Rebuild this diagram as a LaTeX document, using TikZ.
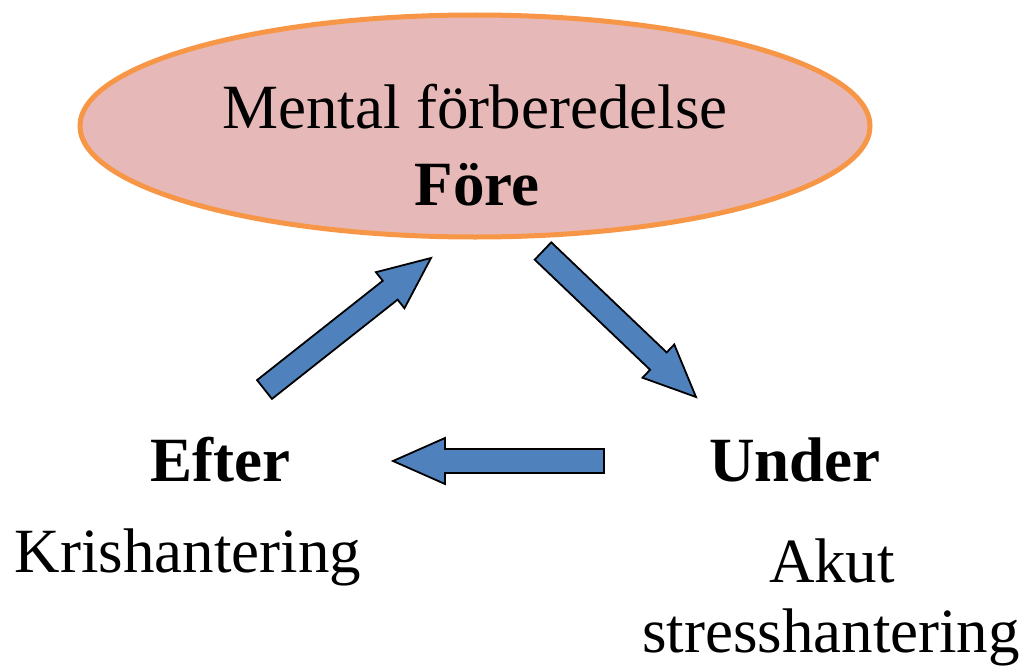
\documentclass[tikz,border=0pt]{standalone}
\usepackage{fontspec}
\setmainfont{Liberation Serif}
\usetikzlibrary{calc,shapes.geometric}
\definecolor{ellfill}{HTML}{E6B9B8}
\definecolor{elldraw}{HTML}{F79646}
\definecolor{arrowfill}{HTML}{4F81BD}
\tikzset{
  big/.style={font=\fontsize{63}{75.6}\selectfont, inner sep=0pt, anchor=base},
  bigbold/.style={big, font=\fontsize{63}{75.6}\selectfont\bfseries},
  blockarrow/.style={fill=arrowfill, draw=black, line width=1.8pt, line join=miter},
}
\newcommand\blockarrowdraw[2]{%
  \coordinate (nk) at ($(#2)!52pt!(#1)$);
  \filldraw[blockarrow]
    ($(#1)!12pt!90:(#2)$) -- ($(nk)!12pt!90:(#2)$) -- ($(nk)!23pt!90:(#2)$) --
    (#2) -- ($(nk)!23pt!-90:(#2)$) -- ($(nk)!12pt!-90:(#2)$) --
    ($(#1)!12pt!-90:(#2)$) -- cycle;
}
\begin{document}
\begin{tikzpicture}[x=1pt,y=-1pt]
\useasboundingbox (0,0) rectangle (1027,669);
\node[ellipse, draw=elldraw, fill=ellfill, line width=5pt, minimum width=790pt, minimum height=222pt, inner sep=0pt] (ell) at (475,126) {};
\node[big] (mental) at (475,128) {Mental förberedelse};
\node[bigbold] (fore) at (477,205) {Före};
\node[bigbold] (efter) at (220,481) {Efter};
\node[big] (kris) at (188,572) {Krishantering};
\node[bigbold] (under) at (795,481) {Under};
\node[big] (akut) at (832,582) {Akut};
\node[big] (stress) at (831,652) {stresshantering};
\coordinate (a1t) at (264.5,389.5); \coordinate (a1h) at (431,258);
\coordinate (a2t) at (543,251);     \coordinate (a2h) at (696,397);
\coordinate (a3t) at (604,461);     \coordinate (a3h) at (393,461);
\blockarrowdraw{a1t}{a1h}
\blockarrowdraw{a2t}{a2h}
\blockarrowdraw{a3t}{a3h}
\end{tikzpicture}
\end{document}
